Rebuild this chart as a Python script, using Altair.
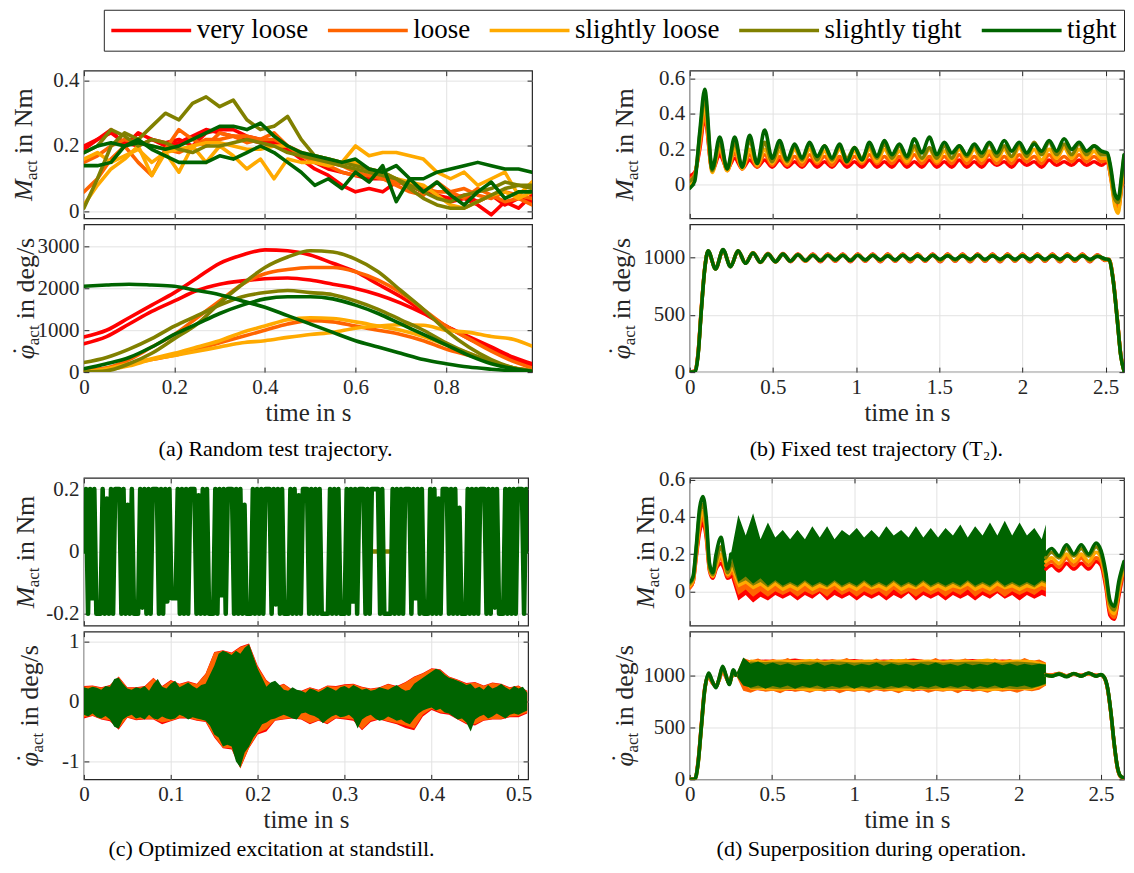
import altair as alt
import pandas as pd

LABELS = ["very loose", "loose", "slightly loose", "slightly tight", "tight"]
COLORS = ["#ff0000", "#ff6400", "#ffaa00", "#808000", "#006400"]
FONT = "Liberation Serif"
INK = "#262626"
GRIDC = "#e2e2e2"
R, O, Y, OL, G = LABELS


def grid(start, step, n):
    return [round(start + k * step, 4) for k in range(n)]


# ---------------- panel (a) : random test trajectory ----------------
A_T = grid(0, 0.03, 34)
A_M = {
    (R, "A"): [0.19, 0.22, 0.25, 0.20, 0.24, 0.22, 0.21, 0.22, 0.20, 0.24, 0.25, 0.25, 0.23, 0.22, 0.21, 0.19, 0.16, 0.13, 0.11, 0.08, 0.06, 0.07, 0.06, 0.09, 0.08, 0.06, 0.05, 0.03, 0.04, 0.02, -0.01, 0.03, 0.01, 0.05],
    (R, "B"): [0.20, 0.22, 0.24, 0.21, 0.20, 0.22, 0.20, 0.21, 0.23, 0.25, 0.24, 0.23, 0.22, 0.21, 0.20, 0.20, 0.18, 0.15, 0.13, 0.12, 0.11, 0.10, 0.10, 0.09, 0.08, 0.06, 0.05, 0.04, 0.05, 0.03, 0.05, 0.02, 0.04, 0.03],
    (O, "A"): [0.06, 0.10, 0.16, 0.20, 0.15, 0.11, 0.19, 0.25, 0.22, 0.20, 0.24, 0.23, 0.21, 0.22, 0.24, 0.20, 0.17, 0.15, 0.14, 0.12, 0.11, 0.11, 0.10, 0.08, 0.06, 0.05, 0.09, 0.06, 0.04, 0.07, 0.05, 0.03, 0.04, 0.02],
    (O, "B"): [0.15, 0.17, 0.20, 0.22, 0.21, 0.20, 0.19, 0.18, 0.20, 0.22, 0.22, 0.23, 0.23, 0.22, 0.22, 0.20, 0.18, 0.16, 0.15, 0.14, 0.12, 0.11, 0.10, 0.09, 0.08, 0.07, 0.06, 0.06, 0.07, 0.05, 0.04, 0.06, 0.05, 0.04],
    (Y, "A"): [0.02, 0.08, 0.13, 0.16, 0.20, 0.11, 0.18, 0.12, 0.20, 0.15, 0.20, 0.17, 0.13, 0.16, 0.10, 0.16, 0.15, 0.15, 0.14, 0.15, 0.20, 0.17, 0.18, 0.18, 0.17, 0.16, 0.12, 0.10, 0.12, 0.08, 0.10, 0.12, 0.05, 0.09],
    (Y, "B"): [0.16, 0.18, 0.15, 0.17, 0.19, 0.15, 0.18, 0.19, 0.20, 0.21, 0.21, 0.20, 0.19, 0.19, 0.20, 0.20, 0.18, 0.17, 0.16, 0.15, 0.15, 0.13, 0.12, 0.10, 0.09, 0.08, 0.05, 0.02, 0.01, 0.03, 0.05, 0.06, 0.04, 0.06],
    (OL, "A"): [0.01, 0.10, 0.20, 0.24, 0.22, 0.26, 0.30, 0.28, 0.33, 0.35, 0.32, 0.34, 0.28, 0.25, 0.26, 0.29, 0.22, 0.17, 0.16, 0.15, 0.14, 0.13, 0.12, 0.10, 0.07, 0.04, 0.02, 0.01, 0.01, 0.03, 0.05, 0.07, 0.08, 0.07],
    (OL, "B"): [0.18, 0.20, 0.25, 0.23, 0.20, 0.22, 0.21, 0.19, 0.18, 0.20, 0.20, 0.21, 0.22, 0.21, 0.20, 0.18, 0.17, 0.16, 0.15, 0.14, 0.13, 0.12, 0.11, 0.10, 0.08, 0.06, 0.04, 0.03, 0.05, 0.06, 0.07, 0.09, 0.08, 0.08],
    (G, "A"): [0.14, 0.14, 0.15, 0.20, 0.22, 0.19, 0.17, 0.15, 0.15, 0.15, 0.17, 0.16, 0.18, 0.20, 0.18, 0.15, 0.12, 0.08, 0.10, 0.07, 0.12, 0.09, 0.14, 0.03, 0.10, 0.06, 0.09, 0.05, 0.02, 0.06, 0.09, 0.04, 0.06, 0.06],
    (G, "B"): [0.18, 0.20, 0.21, 0.20, 0.21, 0.20, 0.19, 0.20, 0.22, 0.24, 0.26, 0.26, 0.25, 0.27, 0.23, 0.20, 0.18, 0.17, 0.16, 0.15, 0.16, 0.13, 0.12, 0.14, 0.10, 0.10, 0.12, 0.13, 0.14, 0.15, 0.14, 0.13, 0.13, 0.12],
}
A_TV = grid(0, 0.05, 20) + [0.99]
A_V = {
    (R, "A"): [840, 1000, 1300, 1600, 1900, 2250, 2600, 2800, 2920, 2900, 2800, 2600, 2400, 2100, 1800, 1450, 1100, 800, 550, 300, 150],
    (R, "B"): [680, 850, 1150, 1450, 1700, 1950, 2100, 2180, 2230, 2250, 2200, 2100, 2000, 1850, 1650, 1400, 1100, 850, 600, 350, 200],
    (O, "A"): [50, 100, 300, 600, 900, 1300, 1700, 2100, 2350, 2450, 2500, 2500, 2400, 2200, 1900, 1500, 1100, 800, 500, 250, 100],
    (O, "B"): [0, 100, 200, 300, 400, 550, 700, 850, 1000, 1150, 1230, 1200, 1100, 1000, 900, 750, 550, 400, 250, 100, 50],
    (Y, "A"): [0, 80, 200, 320, 450, 600, 750, 950, 1100, 1250, 1300, 1280, 1200, 1100, 1000, 850, 650, 450, 250, 100, 30],
    (Y, "B"): [0, 50, 150, 300, 400, 500, 600, 700, 750, 830, 900, 950, 1050, 1100, 1130, 1120, 1000, 950, 850, 780, 620],
    (OL, "A"): [0, 30, 200, 450, 800, 1150, 1650, 2100, 2500, 2750, 2900, 2870, 2700, 2400, 1950, 1500, 1000, 600, 300, 100, 20],
    (OL, "B"): [230, 350, 550, 800, 1100, 1350, 1600, 1800, 1900, 1950, 1900, 1850, 1700, 1500, 1250, 1000, 700, 450, 250, 100, 30],
    (G, "A"): [2050, 2080, 2100, 2080, 2050, 1950, 1850, 1700, 1550, 1350, 1150, 950, 750, 600, 450, 300, 200, 120, 70, 30, 10],
    (G, "B"): [80, 200, 350, 600, 900, 1150, 1400, 1600, 1750, 1800, 1800, 1750, 1600, 1400, 1150, 900, 650, 400, 200, 80, 20],
}

# ---------------- panel (b) : fixed test trajectory ----------------
B_TM = [0, 0.03, 0.06] + grid(0.09, 0.045, 54) + [2.51, 2.53, 2.555, 2.575, 2.595, 2.61]
B_M = {
    R: [0.05, 0.07, 0.20,
        0.38, 0.08, 0.17, 0.09, 0.15, 0.09, 0.14, 0.10, 0.14, 0.10, 0.14, 0.10, 0.13, 0.10, 0.14, 0.10, 0.13, 0.10, 0.14, 0.10,
        0.13, 0.10, 0.14, 0.10, 0.13, 0.10, 0.14, 0.10, 0.13, 0.10, 0.14, 0.10, 0.13, 0.10, 0.14, 0.10, 0.13, 0.10, 0.14, 0.11,
        0.13, 0.10, 0.14, 0.11, 0.13, 0.10, 0.14, 0.11, 0.13, 0.11, 0.14, 0.11, 0.13, 0.11,
        0.13, 0.05, -0.08, -0.12, -0.01, 0.12],
    O: [0.03, 0.06, 0.22,
        0.40, 0.08, 0.20, 0.08, 0.18, 0.09, 0.17, 0.10, 0.17, 0.11, 0.16, 0.11, 0.16, 0.11, 0.17, 0.12, 0.16, 0.11, 0.16, 0.12,
        0.16, 0.12, 0.17, 0.12, 0.16, 0.12, 0.16, 0.12, 0.17, 0.12, 0.16, 0.12, 0.16, 0.12, 0.17, 0.12, 0.16, 0.12, 0.17, 0.12,
        0.16, 0.12, 0.17, 0.13, 0.16, 0.12, 0.17, 0.13, 0.16, 0.13, 0.17, 0.13, 0.16, 0.13,
        0.14, 0.04, -0.10, -0.14, -0.02, 0.12],
    Y: [-0.01, 0.04, 0.25,
        0.45, 0.07, 0.22, 0.08, 0.21, 0.09, 0.20, 0.11, 0.20, 0.12, 0.19, 0.12, 0.20, 0.13, 0.20, 0.13, 0.19, 0.13, 0.20, 0.13,
        0.19, 0.13, 0.20, 0.13, 0.20, 0.14, 0.19, 0.13, 0.20, 0.14, 0.20, 0.13, 0.19, 0.14, 0.20, 0.14, 0.20, 0.14, 0.19, 0.14,
        0.20, 0.14, 0.21, 0.15, 0.20, 0.14, 0.20, 0.15, 0.21, 0.15, 0.20, 0.15, 0.19, 0.15,
        0.15, 0.05, -0.12, -0.16, 0.00, 0.14],
    OL: [0.02, 0.05, 0.28,
         0.50, 0.08, 0.24, 0.09, 0.24, 0.10, 0.25, 0.12, 0.24, 0.13, 0.22, 0.13, 0.22, 0.14, 0.23, 0.14, 0.22, 0.14, 0.22, 0.15,
         0.21, 0.15, 0.22, 0.15, 0.23, 0.15, 0.22, 0.15, 0.22, 0.15, 0.21, 0.15, 0.22, 0.15, 0.22, 0.16, 0.22, 0.16, 0.23, 0.16,
         0.22, 0.16, 0.23, 0.16, 0.24, 0.17, 0.24, 0.17, 0.23, 0.17, 0.23, 0.17, 0.22, 0.17,
         0.17, 0.08, -0.08, -0.10, 0.03, 0.16],
    G: [-0.02, 0.02, 0.30,
        0.54, 0.09, 0.27, 0.09, 0.27, 0.10, 0.28, 0.12, 0.31, 0.15, 0.25, 0.14, 0.23, 0.15, 0.24, 0.16, 0.22, 0.15, 0.23, 0.13,
        0.21, 0.14, 0.24, 0.16, 0.25, 0.17, 0.23, 0.16, 0.26, 0.18, 0.27, 0.17, 0.24, 0.18, 0.22, 0.17, 0.23, 0.18, 0.24, 0.18,
        0.25, 0.19, 0.24, 0.18, 0.23, 0.19, 0.25, 0.19, 0.26, 0.20, 0.24, 0.19, 0.22, 0.19,
        0.18, 0.10, -0.05, -0.08, 0.05, 0.17],
}
B_TV = [0, 0.03, 0.05, 0.07, 0.09] + grid(0.11, 0.045, 53) + [2.495, 2.52, 2.545, 2.57, 2.59, 2.61]
B_V = {
    R: [0, 10, 170, 570, 910,
        1050, 905, 1060, 925, 1055, 955, 1040, 960, 1035, 965, 1035, 965, 1030, 970, 1030, 965, 1030, 970, 1030, 965,
        1030, 970, 1030, 965, 1030, 970, 1030, 965, 1030, 970, 1030, 965, 1030, 970, 1030, 965, 1030, 970, 1030, 965,
        1030, 970, 1030, 965, 1030, 970, 1030, 965, 1030, 970, 1030, 965, 1025,
        975, 985, 810, 460, 160, 15],
    O: [0, 8, 165, 565, 905,
        1055, 902, 1065, 922, 1058, 952, 1042, 958, 1035, 962, 1032, 968, 1028, 970, 1026, 970, 1028, 972, 1026, 970,
        1028, 972, 1026, 970, 1028, 972, 1026, 970, 1028, 972, 1026, 970, 1028, 972, 1026, 970, 1028, 972, 1026, 970,
        1028, 972, 1026, 970, 1028, 972, 1026, 970, 1028, 972, 1026, 970, 1022,
        978, 983, 805, 455, 155, 12],
    Y: [0, 5, 160, 560, 905,
        1058, 903, 1066, 921, 1059, 951, 1041, 959, 1032, 964, 1030, 969, 1027, 972, 1024, 972, 1025, 975, 1024, 972,
        1025, 975, 1024, 972, 1025, 975, 1024, 972, 1025, 975, 1024, 972, 1025, 975, 1024, 972, 1025, 975, 1024, 972,
        1025, 975, 1024, 972, 1025, 975, 1024, 972, 1025, 975, 1024, 972, 1018,
        982, 982, 803, 452, 152, 11],
    OL: [0, 3, 155, 555, 902,
         1059, 901, 1068, 920, 1060, 950, 1040, 960, 1031, 965, 1029, 970, 1024, 975, 1021, 975, 1020, 978, 1021, 976,
         1020, 978, 1021, 976, 1020, 978, 1021, 976, 1020, 978, 1021, 976, 1020, 978, 1021, 976, 1020, 978, 1021, 976,
         1020, 978, 1021, 976, 1020, 978, 1021, 976, 1020, 978, 1021, 976, 1015,
         986, 981, 801, 451, 151, 10],
    G: [0, 0, 150, 550, 900,
        1060, 900, 1070, 920, 1060, 950, 1040, 960, 1030, 965, 1030, 970, 1025, 975, 1020, 975, 1020, 980, 1020, 975,
        1020, 980, 1020, 980, 1015, 980, 1020, 985, 1015, 980, 1020, 985, 1015, 985, 1015, 985, 1020, 985, 1015, 985,
        1015, 985, 1015, 985, 1015, 985, 1015, 985, 1015, 985, 1015, 985, 1010,
        990, 980, 800, 450, 150, 10],
}

# ---------------- panel (c) : optimized excitation at standstill ----------------
C_M_GREEN = [  # hundredths of Nm, sampled every 2.4 ms
    0, 20, -20, 20, -15, 20, -20, -20, -20,
    20, -20, 17, -20, 20, -20, 20, 20, 20,
    -20, 20, -20, 15, -20, 20, -20, -20, -20,
    20, -18, 20, -20, 20, -20, 20, 20, 20,
    -20, 20, -20, 20, -16, 20, -15, -15, -15,
    20, -20, 20, -20, 20, -20, 20, 20, 20,
    -20, 18, -20, 20, -20, 20, -20, -20, -20,
    20, -20, 20, -14, 20, -20, 20, 20, 20,
    -20, 20, -20, 20, -20, 15, -20, -20, -20,
    20, -20, 20, -20, 20, -20, 20, 20, 20,
    -20, 20, -17, 20, -20, 20, -20, -20, -20,
    20, -20, 20, -20, 18, -20, 20, 20, 20,
    -20, 20, -20, 20, -20, 20, -20, -20, -20,
    -20, 20, -20, 20, -20, 20, -20, -20, -20,
    20, -20, 20, -16, 20, -20, 20, 20, 20,
    -20, 20, -20, 20, 20, 20, 20,
    -20, 20, -20, -20, -20, -20,
    20, -20, 20, -20, 20, -20, 20, 20, 20,
    -20, 20, -15, 20, -20, 20, -20, -20, -20,
    20, -20, 20, -20, 17, -20, 20, 20, 20,
    -20, 20, -20, 20, -20, 14, -20, -20, -20,
    20, -20, 20, -20, 20, -20, 20, 20, 20,
    -20, 20, -20, 20, -18, 20, -20, -20, -20,
    20, -20, 20, -20, 20, -20, 20, 20, 20,
    -20, 20, 0,
]
C_M_OLIVE = [("s1", 0.332, 0.0), ("s1", 0.338, 0.0), ("s2", 0.347, 0.0), ("s2", 0.352, 0.0)]
C_V_GREEN_HI = [24, 22, 25, 23, 20, 26, 25, 38, 40, 30, 22, 20, 24, 22, 26, 18, 30, 38, 25, 22,
                30, 35, 24, 28, 32, 26, 22, 28, 30, 45, 60, 80, 85, 82, 78, 85, 80, 90, 96, 75,
                55, 40, 25, 32, 35, 28, 20, 18, 24, 20, 18, 15, 22, 20, 16, 20, 25, 22, 18, 24,
                26, 22, 28, 24, 20, 22, 18, 20, 24, 22, 20, 24, 28, 22, 18, 20, 30, 35, 40, 45,
                50, 55, 52, 45, 40, 38, 35, 32, 28, 30, 22, 25, 20, 28, 22, 25, 30, 24, 20, 26,
                22, 25, 15]
C_V_GREEN_LO = [-22, -25, -20, -26, -28, -24, -30, -42, -45, -30, -25, -22, -28, -26, -30, -22, -28, -30, -25, -28,
                -30, -28, -22, -25, -30, -26, -28, -30, -32, -40, -55, -60, -75, -72, -75, -100, -110, -85, -75, -60,
                -50, -38, -35, -30, -28, -25, -22, -25, -28, -30, -20, -18, -22, -24, -28, -36, -30, -25, -22, -26,
                -25, -22, -28, -45, -30, -25, -22, -28, -32, -30, -25, -28, -32, -30, -35, -38, -28, -20, -15, -12,
                -10, -15, -12, -18, -20, -25, -30, -28, -35, -50, -30, -25, -22, -28, -25, -20, -24, -28, -22, -20,
                -22, -18, -15]
C_V_RED_HI = [26, 27, 24, 28, 42, 24, 24, 26, 40, 26, 36, 30, 34, 30, 47, 83, 86, 82, 92, 97,
              60, 36, 25, 30, 20, 18, 24, 20, 27, 26, 29, 30, 25, 22, 24, 30, 26, 33, 42, 48,
              56, 54, 42, 37, 31, 33, 27, 32, 30, 24, 27, 18]
C_V_RED_LO = [-28, -24, -30, -33, -47, -27, -31, -30, -30, -38, -33, -28, -28, -32, -34, -60, -78, -80, -112, -78,
              -55, -50, -32, -30, -28, -30, -38, -32, -38, -28, -30, -32, -48, -34, -30, -34, -38, -44, -48, -25,
              -14, -20, -22, -30, -38, -40, -32, -30, -30, -26, -26, -20]
C_V_OR_HI = [25, 26, 23, 27, 41, 23, 23, 25, 39, 25, 35, 29, 33, 29, 46, 82, 85, 81, 91, 96,
             58, 35, 24, 29, 19, 17, 23, 19, 26, 25, 28, 29, 24, 21, 23, 29, 25, 32, 41, 47,
             55, 53, 41, 36, 30, 32, 26, 31, 29, 23, 26, 17]
C_V_OR_LO = [-26, -23, -29, -31, -45, -26, -30, -29, -29, -35, -32, -27, -27, -31, -33, -58, -77, -78, -111, -77,
             -53, -46, -31, -29, -27, -29, -36, -31, -36, -27, -28, -30, -46, -32, -29, -33, -36, -40, -45, -22,
             -12, -18, -20, -29, -36, -38, -31, -29, -29, -25, -24, -18]

# ---------------- panel (d) : superposition during operation ----------------
D_TM_PRE = [0, 0.02, 0.04, 0.06, 0.08, 0.10, 0.12, 0.14, 0.16, 0.19, 0.21, 0.23, 0.25]
D_M_PRE = {
    R: [0.02, 0.05, 0.19, 0.32, 0.37, 0.29, 0.11, 0.07, 0.12, 0.15, 0.12, 0.07, 0.08],
    O: [0.02, 0.05, 0.20, 0.35, 0.40, 0.31, 0.12, 0.08, 0.13, 0.18, 0.14, 0.08, 0.10],
    Y: [0.03, 0.06, 0.21, 0.38, 0.43, 0.33, 0.12, 0.08, 0.14, 0.20, 0.15, 0.09, 0.12],
    OL: [0.04, 0.07, 0.23, 0.42, 0.47, 0.36, 0.13, 0.09, 0.16, 0.24, 0.18, 0.10, 0.15],
    G: [0.05, 0.08, 0.25, 0.45, 0.51, 0.40, 0.15, 0.10, 0.20, 0.29, 0.20, 0.12, 0.20],
}
D_TM_BAND = grid(0.25, 0.045, 43) + [2.165]
D_M_BAND = {
    R: ([0.08, -0.05, -0.02, -0.06, -0.03, -0.05, -0.02, -0.04, -0.02, -0.05, -0.02, -0.04, -0.01, -0.05, -0.02, -0.04, -0.02, -0.05, -0.02, -0.04, -0.02, -0.05,
         -0.02, -0.04, -0.01, -0.05, -0.02, -0.04, -0.02, -0.05, -0.02, -0.04, -0.02, -0.05, -0.02, -0.04, -0.01, -0.04, -0.02, -0.05, -0.02, -0.04, -0.02, -0.03],
        [0.08, 0.30, 0.24, 0.32, 0.23, 0.29, 0.24, 0.28, 0.23, 0.29, 0.23, 0.29, 0.24, 0.29, 0.23, 0.28, 0.24, 0.29, 0.24, 0.28, 0.24, 0.29,
         0.24, 0.28, 0.24, 0.29, 0.24, 0.29, 0.24, 0.29, 0.24, 0.30, 0.24, 0.29, 0.24, 0.30, 0.24, 0.30, 0.24, 0.31, 0.24, 0.31, 0.23, 0.29]),
    O: ([0.10, -0.02, 0.01, -0.03, 0.00, -0.03, 0.00, -0.02, 0.00, -0.03, 0.00, -0.02, 0.00, -0.03, 0.01, -0.02, 0.00, -0.03, 0.00, -0.02, 0.00, -0.03,
         0.01, -0.02, 0.00, -0.03, 0.00, -0.02, 0.00, -0.03, 0.00, -0.02, 0.01, -0.03, 0.00, -0.02, 0.00, -0.03, 0.00, -0.02, 0.00, -0.02, 0.01, 0.00],
        [0.10, 0.32, 0.26, 0.34, 0.25, 0.31, 0.26, 0.30, 0.25, 0.31, 0.25, 0.31, 0.26, 0.31, 0.25, 0.30, 0.26, 0.31, 0.26, 0.30, 0.26, 0.31,
         0.26, 0.30, 0.26, 0.31, 0.26, 0.31, 0.26, 0.31, 0.26, 0.32, 0.26, 0.31, 0.26, 0.32, 0.26, 0.32, 0.26, 0.33, 0.26, 0.33, 0.25, 0.31]),
    Y: ([0.12, 0.02, 0.04, 0.01, 0.03, 0.00, 0.03, 0.00, 0.02, 0.00, 0.03, 0.00, 0.02, 0.01, 0.03, 0.00, 0.02, 0.00, 0.03, 0.01, 0.02, 0.00,
         0.03, 0.00, 0.02, 0.01, 0.03, 0.00, 0.02, 0.00, 0.02, 0.01, 0.03, 0.00, 0.02, 0.00, 0.03, 0.01, 0.02, 0.00, 0.02, 0.01, 0.03, 0.02],
        [0.12, 0.34, 0.27, 0.36, 0.26, 0.32, 0.27, 0.31, 0.26, 0.32, 0.26, 0.32, 0.27, 0.33, 0.26, 0.31, 0.27, 0.32, 0.27, 0.31, 0.27, 0.32,
         0.27, 0.31, 0.27, 0.32, 0.27, 0.32, 0.27, 0.32, 0.27, 0.33, 0.27, 0.32, 0.27, 0.33, 0.27, 0.33, 0.27, 0.33, 0.27, 0.33, 0.26, 0.32]),
    OL: ([0.15, 0.04, 0.06, 0.03, 0.05, 0.02, 0.05, 0.02, 0.04, 0.02, 0.05, 0.02, 0.04, 0.02, 0.05, 0.02, 0.04, 0.02, 0.05, 0.02, 0.04, 0.02,
          0.05, 0.02, 0.04, 0.02, 0.05, 0.02, 0.04, 0.02, 0.04, 0.02, 0.05, 0.02, 0.04, 0.02, 0.05, 0.02, 0.04, 0.02, 0.04, 0.02, 0.05, 0.04],
         [0.15, 0.36, 0.28, 0.38, 0.27, 0.34, 0.28, 0.32, 0.27, 0.33, 0.27, 0.33, 0.28, 0.34, 0.27, 0.32, 0.28, 0.33, 0.28, 0.32, 0.28, 0.33,
          0.28, 0.32, 0.28, 0.33, 0.28, 0.33, 0.28, 0.33, 0.28, 0.34, 0.28, 0.33, 0.28, 0.34, 0.28, 0.35, 0.28, 0.34, 0.28, 0.33, 0.27, 0.33]),
    G: ([0.20, 0.05, 0.08, 0.04, 0.07, 0.03, 0.06, 0.03, 0.05, 0.03, 0.06, 0.03, 0.05, 0.03, 0.06, 0.03, 0.05, 0.03, 0.06, 0.03, 0.05, 0.03,
         0.06, 0.03, 0.05, 0.03, 0.06, 0.03, 0.05, 0.03, 0.05, 0.03, 0.06, 0.03, 0.05, 0.03, 0.06, 0.03, 0.05, 0.03, 0.05, 0.03, 0.06, 0.05],
        [0.20, 0.41, 0.30, 0.42, 0.28, 0.37, 0.29, 0.33, 0.28, 0.33, 0.28, 0.35, 0.29, 0.35, 0.28, 0.33, 0.30, 0.34, 0.29, 0.33, 0.29, 0.35,
         0.30, 0.33, 0.29, 0.35, 0.29, 0.34, 0.29, 0.34, 0.30, 0.36, 0.29, 0.35, 0.30, 0.37, 0.30, 0.38, 0.30, 0.37, 0.30, 0.34, 0.28, 0.36]),
}
D_TM_POST = [2.165, 2.2, 2.245, 2.29, 2.335, 2.38, 2.425, 2.47, 2.5, 2.53, 2.555, 2.58, 2.61, 2.64]
D_M_POST = {
    R: [0.12, 0.14, 0.11, 0.15, 0.12, 0.15, 0.12, 0.16, 0.14, 0.02, -0.13, -0.15, -0.02, 0.12],
    O: [0.14, 0.16, 0.13, 0.18, 0.14, 0.18, 0.14, 0.18, 0.16, 0.04, -0.11, -0.14, 0.00, 0.13],
    Y: [0.16, 0.18, 0.15, 0.20, 0.16, 0.20, 0.16, 0.21, 0.18, 0.06, -0.09, -0.12, 0.02, 0.14],
    OL: [0.18, 0.21, 0.18, 0.23, 0.19, 0.23, 0.19, 0.24, 0.20, 0.08, -0.07, -0.10, 0.04, 0.15],
    G: [0.20, 0.23, 0.19, 0.25, 0.20, 0.25, 0.20, 0.26, 0.22, 0.10, -0.05, -0.08, 0.06, 0.16],
}
D_TV_PRE = [0, 0.03, 0.05, 0.07, 0.09, 0.115, 0.135, 0.16, 0.18, 0.2, 0.22, 0.24, 0.265, 0.28]
D_V_PRE = {
    R: [0, 5, 165, 515, 865, 990, 930, 900, 960, 1055, 980, 930, 1020, 1000],
    O: [0, 5, 160, 510, 860, 995, 935, 895, 965, 1060, 985, 925, 1025, 1000],
    Y: [0, 0, 145, 495, 845, 1000, 940, 890, 970, 1065, 990, 920, 1030, 1000],
    OL: [0, 0, 140, 490, 840, 1010, 945, 885, 975, 1075, 995, 915, 1040, 1000],
    G: [0, 0, 150, 500, 850, 1020, 950, 880, 980, 1085, 1000, 910, 1050, 1000],
}
D_TV_BAND_FINE = grid(0.28, 0.045, 42) + [2.165]
D_TV_BAND_COARSE = grid(0.28, 0.09, 21) + [2.165]
D_V_BAND = {
    R: ([1000, 860, 850, 855, 845, 860, 850, 855, 845, 860, 850, 855, 845, 860, 850, 855, 845, 860, 850, 855, 860, 900],
        [1000, 1140, 1150, 1145, 1160, 1140, 1150, 1145, 1155, 1140, 1150, 1145, 1160, 1140, 1150, 1145, 1155, 1140, 1150, 1145, 1140, 1110]),
    O: ([1000, 850, 830, 860, 840, 850, 825, 860, 840, 850, 830, 855, 840, 860, 825, 850, 840, 855, 830, 860, 840, 850,
         825, 855, 840, 860, 830, 850, 840, 855, 825, 860, 840, 850, 830, 855, 840, 850, 830, 855, 845, 860, 900],
        [1000, 1165, 1140, 1160, 1130, 1155, 1135, 1165, 1130, 1150, 1135, 1160, 1130, 1155, 1140, 1165, 1130, 1150, 1135, 1160, 1130, 1155,
         1140, 1160, 1130, 1150, 1135, 1165, 1130, 1155, 1140, 1160, 1135, 1150, 1130, 1160, 1135, 1155, 1130, 1165, 1135, 1150, 1120]),
    Y: ([1000, 860, 855, 850, 860, 845, 855, 860, 850, 855, 860, 845, 855, 860, 850, 855, 860, 845, 855, 860, 855, 905],
        [1000, 1150, 1140, 1150, 1145, 1155, 1140, 1150, 1145, 1150, 1140, 1155, 1145, 1150, 1140, 1150, 1145, 1160, 1140, 1150, 1145, 1115]),
    OL: ([1000, 870, 875, 865, 870, 875, 865, 870, 875, 870, 865, 875, 870, 865, 875, 870, 865, 870, 875, 865, 870, 910],
         [1000, 1130, 1125, 1130, 1120, 1130, 1125, 1130, 1120, 1125, 1130, 1120, 1125, 1130, 1120, 1125, 1130, 1125, 1120, 1130, 1120, 1105]),
    G: ([1000, 900, 880, 900, 870, 895, 880, 900, 870, 895, 880, 900, 875, 895, 880, 900, 870, 895, 880, 900, 875, 895,
         880, 900, 870, 895, 880, 900, 875, 895, 880, 900, 870, 895, 880, 900, 875, 895, 885, 900, 880, 895, 920],
        [1000, 1170, 1110, 1130, 1100, 1120, 1095, 1115, 1090, 1110, 1095, 1120, 1090, 1110, 1095, 1115, 1090, 1110, 1095, 1120, 1090, 1115,
         1095, 1110, 1090, 1115, 1095, 1120, 1095, 1110, 1090, 1115, 1095, 1110, 1095, 1120, 1095, 1115, 1090, 1110, 1095, 1110, 1100]),
}
D_TV_POST = [2.165, 2.2, 2.245, 2.29, 2.335, 2.38, 2.425, 2.47, 2.5, 2.52, 2.54, 2.56, 2.58, 2.6, 2.62, 2.64]
D_V_POST = {
    R: [1005, 1000, 1016, 994, 1010, 998, 1014, 998, 1000, 975, 868, 638, 338, 108, 24, 10],
    O: [1003, 998, 1015, 992, 1011, 996, 1015, 996, 1001, 976, 870, 640, 340, 110, 25, 11],
    Y: [1002, 995, 1014, 990, 1012, 994, 1016, 994, 1003, 977, 872, 642, 342, 112, 27, 13],
    OL: [1000, 992, 1012, 988, 1013, 992, 1018, 992, 1004, 978, 875, 645, 345, 115, 28, 14],
    G: [1000, 990, 1010, 985, 1015, 990, 1020, 990, 1005, 980, 880, 650, 350, 120, 30, 15],
}

CAPTIONS = ["(a) Random test trajectory.", "(b) Fixed test trajectory (T\u2082).",
            "(c) Optimized excitation at standstill.", "(d) Superposition during operation."]


# ---------------- build rows ----------------
def line_rows(t, vals, s, r="0", scale=1.0):
    return [{"t": a, "v": b * scale, "s": s, "r": r} for a, b in zip(t, vals)]


def band_rows(t, lo, hi, s, scale=1.0):
    return [{"t": a, "lo": b * scale, "hi": c * scale, "s": s} for a, b, c in zip(t, lo, hi)]


a_top = [row for (s, r), v in A_M.items() for row in line_rows(A_T, v, s, r)]
a_bot = [row for (s, r), v in A_V.items() for row in line_rows(A_TV, v, s, r)]
b_top = [row for s, v in B_M.items() for row in line_rows(B_TM, v, s)]
b_bot = [row for s, v in B_V.items() for row in line_rows(B_TV, v, s)]
c_top = line_rows([round(0.0024 * i, 4) for i in range(len(C_M_GREEN))], C_M_GREEN, G, scale=0.01)
c_top += [{"t": t, "v": v, "s": OL, "r": r} for r, t, v in C_M_OLIVE]
C_T5 = [round(0.005 * i, 4) for i in range(len(C_V_GREEN_HI))]
C_T10 = [round(0.01 * i, 4) for i in range(len(C_V_RED_HI))]
c_bot_band = (band_rows(C_T10, C_V_RED_LO, C_V_RED_HI, R, 0.01)
              + band_rows(C_T10, C_V_OR_LO, C_V_OR_HI, O, 0.01)
              + band_rows(C_T5, C_V_GREEN_LO, C_V_GREEN_HI, G, 0.01))
d_top = []
for s in LABELS:
    d_top += line_rows(D_TM_PRE, D_M_PRE[s], s, "pre")
    d_top += line_rows(D_TM_POST, D_M_POST[s], s, "post")
d_top_band = [row for s in LABELS for row in band_rows(D_TM_BAND, D_M_BAND[s][0], D_M_BAND[s][1], s)]
d_bot = []
for s in LABELS:
    d_bot += line_rows(D_TV_PRE, D_V_PRE[s], s, "pre")
    d_bot += line_rows(D_TV_POST, D_V_POST[s], s, "post")
d_bot_band = []
for s in LABELS:
    tt = D_TV_BAND_FINE if s in (O, G) else D_TV_BAND_COARSE
    d_bot_band += band_rows(tt, D_V_BAND[s][0], D_V_BAND[s][1], s)

# ---------------- chart helpers ----------------
CSCALE = alt.Scale(domain=LABELS, range=COLORS)
LEGEND = alt.Legend(title=None, orient="none", legendX=20, legendY=-61, direction="horizontal",
                    columns=5, symbolType="M-8,0H8", symbolSize=100, symbolOffset=27,
                    symbolStrokeWidth=3.5, labelFont=FONT, labelFontSize=27, labelColor="black",
                    labelOffset=32, columnPadding=12, padding=7, strokeColor=INK, fillColor="white",
                    labelLimit=400, labelBaseline="middle")

M_TITLE = [("M", 26, True, 0, 0), ("act", 17, False, 5, 21), ("in Nm", 26, False, 0, 47), 113]
P_TITLE = [("\u03c6", 26, True, 0, 0), ("\u02d9", 26, False, -4, 4), ("act", 17, False, 5, 14),
           ("in deg/s", 26, False, 0, 40), 122]


def xaxis(vals, labels):
    return alt.Axis(values=vals, labels=labels, title="time in s" if labels else None, orient="bottom",
                    grid=True, gridColor=GRIDC, domain=False, ticks=False, labelFlush=False,
                    labelFont=FONT, labelFontSize=21, labelColor=INK, labelPadding=4,
                    labelExpr="'' + datum.value", labelOverlap=False,
                    titleFont=FONT, titleFontSize=25, titleFontWeight="normal", titleColor=INK,
                    titlePadding=3)


def yaxis(vals):
    return alt.Axis(values=vals, title=None, orient="left", grid=True, gridColor=GRIDC, domain=False, ticks=False,
                    labelFont=FONT, labelFontSize=21, labelColor=INK, labelPadding=5,
                    labelExpr="'' + datum.value", labelOverlap=False, labelFlush=False)


def tick_axis(orient, vals):
    return alt.Axis(orient=orient, values=vals, labels=False, ticks=True, tickSize=5, tickColor=INK,
                    tickWidth=1, domain=False, grid=False, title=None, offset=-5)


def text_layer(text, x, y, size, italic=False, align="left", baseline="alphabetic", angle=0,
               dx=0, dy=0, color=INK):
    return alt.Chart(alt.Data(values=[{"l": text}])).mark_text(
        align=align, baseline=baseline, angle=angle, font=FONT, fontSize=size,
        fontStyle="italic" if italic else "normal", dx=dx, dy=dy, color=color
    ).encode(text="l:N", x=alt.value(x), y=alt.value(y))


def ytitle(spec, x, y):
    total = spec[-1]
    return [text_layer(text, x, y, size, italic, angle=270, dx=-total / 2 + start, dy=dy)
            for text, size, italic, dy, start in spec[:-1]]


def panel(lines, bands, xdom, ydom, xt, yt, w, h, tspec, tx, xlabels, interp, sw,
          legend=False, caption=None):
    xscale = alt.Scale(domain=xdom, nice=False, zero=False)
    yscale = alt.Scale(domain=ydom, nice=False, zero=False)
    state = {"axes": True}

    def axes():
        if state["axes"]:
            state["axes"] = False
            return xaxis(xt, xlabels), yaxis(yt)
        return None, None

    layers = []
    for s in LABELS:
        part = [r for r in bands if r["s"] == s]
        if part:
            xa, ya = axes()
            layers.append(alt.Chart(pd.DataFrame(part)).mark_area(clip=True, interpolate="linear").encode(
                x=alt.X("t:Q", scale=xscale, axis=xa), y=alt.Y("lo:Q", scale=yscale, axis=ya), y2="hi:Q",
                color=alt.Color("s:N", scale=CSCALE, legend=None)))
    first = True
    for s in LABELS:
        part = [r for r in lines if r["s"] == s]
        if part:
            leg = LEGEND if (legend and first) else None
            first = False
            xa, ya = axes()
            layers.append(alt.Chart(pd.DataFrame(part)).mark_line(
                clip=True, strokeWidth=sw, interpolate=interp, strokeJoin="round", strokeCap="round").encode(
                x=alt.X("t:Q", scale=xscale, axis=xa), y=alt.Y("v:Q", scale=yscale, axis=ya),
                color=alt.Color("s:N", scale=CSCALE, legend=leg), detail="r:N"))
    anchor = alt.Chart(alt.Data(values=[{"t": xdom[0], "v": ydom[0]}])).mark_point(opacity=0)
    layers.append(anchor.encode(x=alt.X("t:Q", scale=xscale, axis=tick_axis("top", xt)),
                                y=alt.Y("v:Q", scale=yscale, axis=tick_axis("right", yt))))
    layers.append(anchor.encode(x=alt.X("t:Q", scale=xscale, axis=tick_axis("bottom", xt)),
                                y=alt.Y("v:Q", scale=yscale, axis=tick_axis("left", yt))))
    layers += ytitle(tspec, tx, h / 2)
    if caption:
        text, cx, cy = caption
        layers.append(text_layer(text, cx, cy, 22, align="center", baseline="middle", color="black"))
    return (alt.layer(*layers).resolve_axis(x="independent", y="independent")
            .properties(width=w, height=h))


H = 148
AW, BW, CW, DW = 449, 435, 445, 435
A_XT = [0, 0.2, 0.4, 0.6, 0.8]
B_XT = [0, 0.5, 1, 1.5, 2, 2.5]
C_XT = [0, 0.1, 0.2, 0.3, 0.4, 0.5]

pa1 = panel(a_top, [], [0, 0.99], [-0.021, 0.43], A_XT, [0, 0.2, 0.4], AW, H, M_TITLE, -52, False, "linear", 3.6, legend=True)
pa2 = panel(a_bot, [], [0, 0.99], [0, 3530], A_XT, [0, 1000, 2000, 3000], AW, H, P_TITLE, -50, True, "monotone", 3.6,
            caption=(CAPTIONS[0], 192, 225))
pb1 = panel(b_top, [], [0, 2.61], [-0.19, 0.645], B_XT, [0, 0.2, 0.4, 0.6], BW, H, M_TITLE, -57, False, "monotone", 3.6)
pb2 = panel(b_bot, [], [0, 2.61], [0, 1290], B_XT, [0, 500, 1000], BW, H, P_TITLE, -60, True, "monotone", 3.6,
            caption=(CAPTIONS[1], 187, 225))
pc1 = panel(c_top, [], [0, 0.511], [-0.238, 0.236], C_XT, [-0.2, 0, 0.2], CW, H, M_TITLE, -50, False, "linear", 4.6)
pc2 = panel([], c_bot_band, [0, 0.511], [-1.3, 1.17], C_XT, [-1, 0, 1], CW, H, P_TITLE, -46, True, "linear", 3.6,
            caption=(CAPTIONS[2], 188, 218))
pd1 = panel(d_top, d_top_band, [0, 2.64], [-0.185, 0.61], B_XT, [0, 0.2, 0.4, 0.6], DW, H, M_TITLE, -36, False, "monotone", 3.6)
pd2 = panel(d_bot, d_bot_band, [0, 2.64], [0, 1417], B_XT, [0, 500, 1000], DW, H, P_TITLE, -57, True, "monotone", 3.6,
            caption=(CAPTIONS[3], 182, 218))


def spacer(w):
    return alt.Chart(alt.Data(values=[{"a": 0}])).mark_point(opacity=0).encode(
        x=alt.value(0), y=alt.value(0)).properties(width=w, height=94, view=alt.ViewBackground(stroke="transparent"))


chart = (alt.concat(pa1, pb1, pa2, pb2, spacer(AW), spacer(BW), pc1, pd1, pc2, pd2,
                    columns=2, spacing={"row": 6, "column": 158}, bounds="flush")
         .properties(padding=0, background="white")
         .configure_view(stroke=INK, strokeWidth=1.2)
         .resolve_scale(color="shared"))

chart.save("out.html", embed_options={"renderer": "svg", "actions": False})
